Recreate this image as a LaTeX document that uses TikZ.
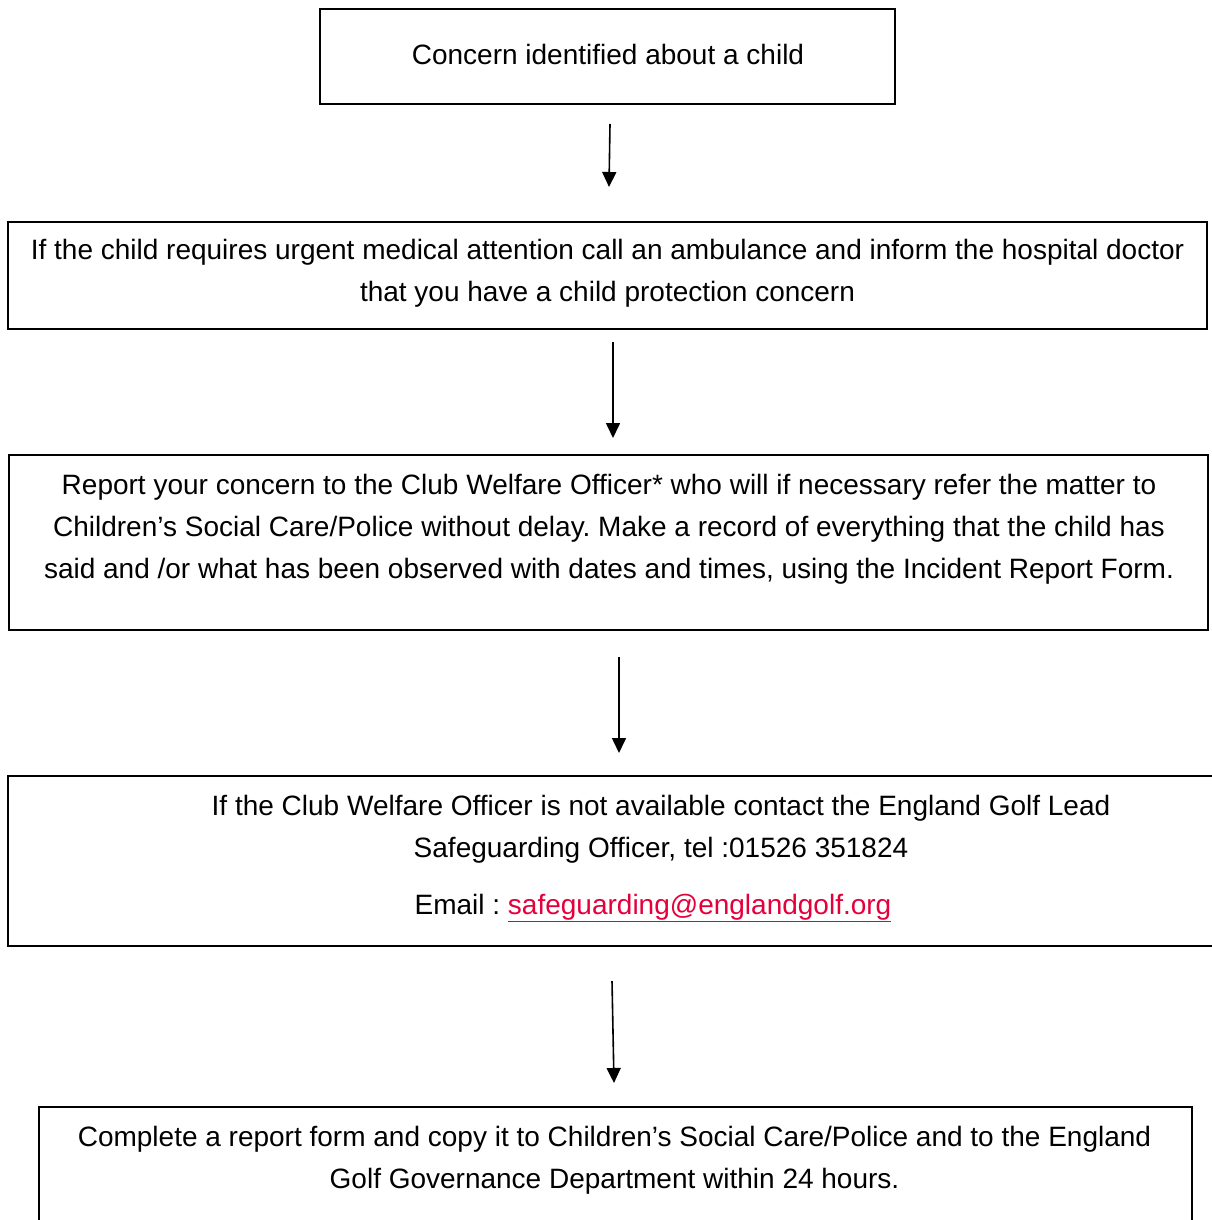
\documentclass[tikz,border=0pt]{standalone}
\usepackage{fontspec}
\setmainfont{Liberation Sans}
\usetikzlibrary{arrows.meta}
\definecolor{linkred}{RGB}{228,0,58}
\frenchspacing

\tikzset{
  box/.style={draw, rectangle, line width=2.6pt, inner sep=0pt},
  txt/.style={align=center, inner sep=0pt, font=\fontsize{28}{42}\selectfont},
  flow/.style={-{Triangle[length=15pt,width=14pt]}, line width=1.6pt},
}

\begin{document}
\begin{tikzpicture}[x=1pt, y=-1pt]
\useasboundingbox (0,0) rectangle (1211,1220);

% boxes
\node[box, minimum width=575, minimum height=95] (concern) at (607.5,56.5) {};
\node[box, minimum width=1199, minimum height=107] (medical) at (607.5,275.5) {};
\node[box, minimum width=1199, minimum height=175] (report) at (608.5,542.5) {};
\node[box, minimum width=1312, minimum height=170] (lead) at (664,861) {};
\node[box, minimum width=1153, minimum height=153] (form) at (615.5,1183.5) {};

% texts
\node[txt] (concerntxt) at (608,54) {Concern identified about a child};
\node[txt] (medicaltxt) at (607.5,273) {If the child requires urgent medical attention call an ambulance and inform the hospital doctor\\that you have a child protection concern};
\node[txt] (reporttxt) at (609,529.5) {Report your concern to the Club Welfare Officer* who will if necessary refer the matter to\\Children’s Social Care/Police without delay. Make a record of everything that the child has\\said and /or what has been observed with dates and times, using the Incident Report Form.};
\node[txt] (leadtxt) at (661,829) {If the Club Welfare Officer is not available contact the England Golf Lead\\Safeguarding Officer, tel :01526 351824};
\node[txt] (emailtxt) at (653,908) {Email : \textcolor{linkred}{\underline{safeguarding@englandgolf.org}}};
\node[txt] (formtxt) at (614.5,1160) {Complete a report form and copy it to Children’s Social Care/Police and to the England\\Golf Governance Department within 24 hours.};

% arrows
\coordinate (A1) at (610,124);
\coordinate (B1) at (609,187);
\coordinate (A2) at (613,342);
\coordinate (B2) at (613,438);
\coordinate (A3) at (619,657);
\coordinate (B3) at (619,753);
\coordinate (A4) at (612,981);
\coordinate (B4) at (614,1083);

\draw[flow] (A1) -- (B1);
\draw[flow] (A2) -- (B2);
\draw[flow] (A3) -- (B3);
\draw[flow] (A4) -- (B4);

\end{tikzpicture}
\end{document}
